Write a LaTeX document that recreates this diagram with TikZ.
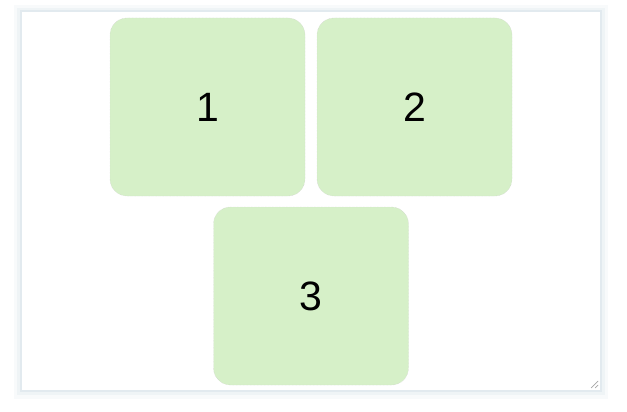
\documentclass[tikz,border=0pt]{standalone}
\usepackage{fontspec}
\setmainfont{Liberation Sans}
\begin{document}
\begin{tikzpicture}[x=1pt,y=1pt,
  cell/.style={draw=gray!40,densely dotted,fill=boxgreen,rounded corners=17pt,
    minimum width=195pt,minimum height=178pt,inner sep=0pt,
    font=\fontsize{41}{41}\selectfont,text=black}]
\definecolor{boxgreen}{HTML}{D6F0C8}
\definecolor{shadowc}{HTML}{E2EAEF}
\path[use as bounding box,fill=white] (0,-412) rectangle (627,0);
% shadow as strokes
\draw[shadowc!25!white,line width=6pt] (17,-8) rectangle (605,-396);
\draw[shadowc!55!white,line width=4pt] (19,-10) rectangle (603,-393);
\draw[draw=shadowc,line width=2pt] (21,-11) rectangle (601,-391);
\fill[white] (22,-12) rectangle (600,-390);
\node[cell] (n1) at (207.5,-107) {1};
\node[cell] (n2) at (414.5,-107) {2};
\node[cell] (n3) at (311,-296) {3};
% resize grip
\coordinate (g1) at (591,-388);
\coordinate (g2) at (598,-381);
\coordinate (g3) at (595,-388);
\coordinate (g4) at (598,-385);
\draw[gray!70,line width=0.7pt] (g1) -- (g2) (g3) -- (g4);
\end{tikzpicture}
\end{document}
